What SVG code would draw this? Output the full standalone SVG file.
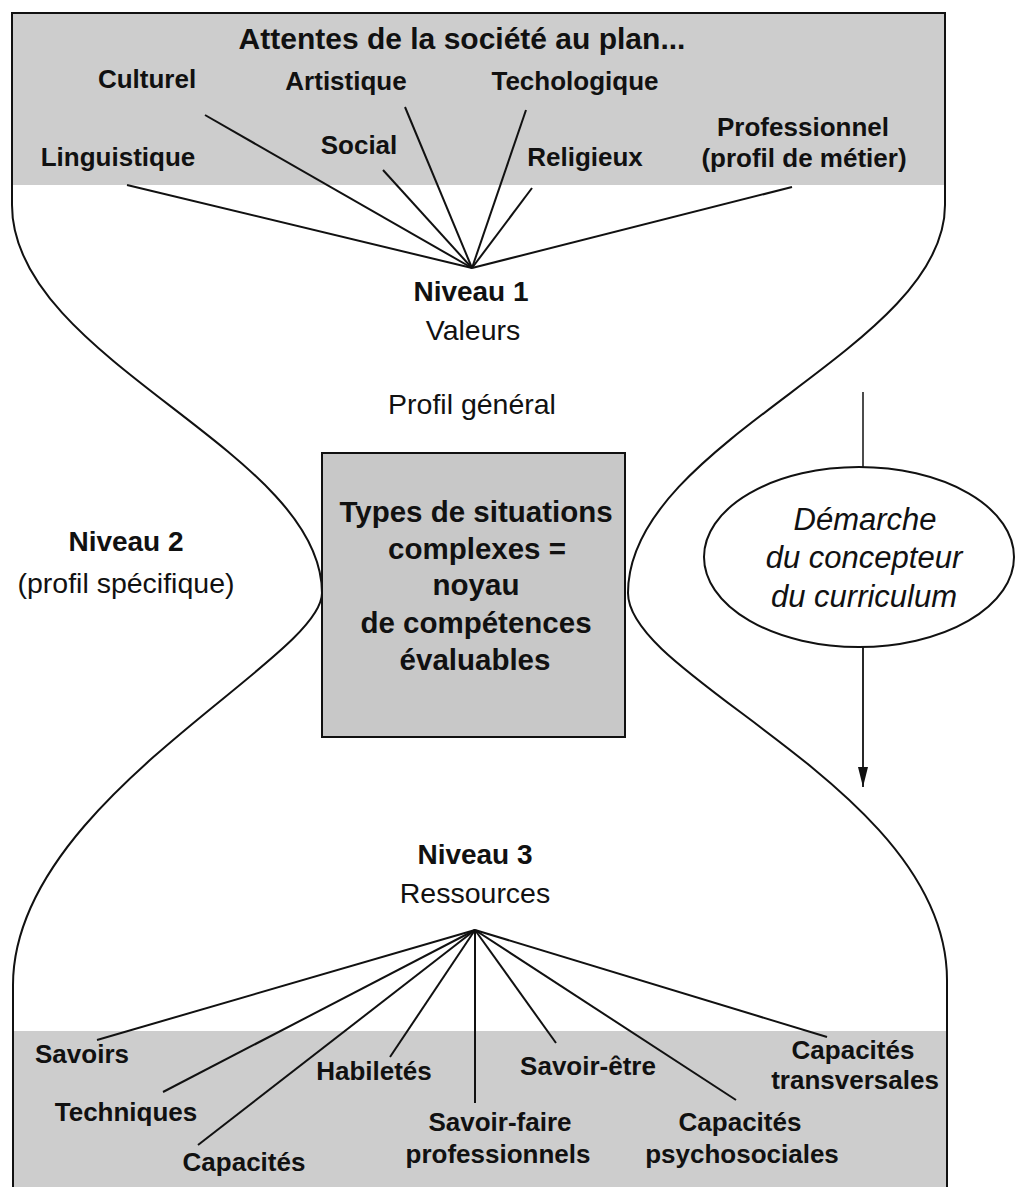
<svg xmlns="http://www.w3.org/2000/svg" width="1019" height="1187" viewBox="0 0 1019 1187">
<defs>
<style>
.b{font-family:"Liberation Sans",Arial,sans-serif;font-weight:bold;font-size:26px;fill:#111;text-anchor:middle}
.t{font-family:"Liberation Sans",Arial,sans-serif;font-weight:bold;font-size:30px;fill:#111;text-anchor:middle}
.n{font-family:"Liberation Sans",Arial,sans-serif;font-weight:bold;font-size:28px;fill:#111;text-anchor:middle}
.r{font-family:"Liberation Sans",Arial,sans-serif;font-size:28.5px;fill:#111;text-anchor:middle}
.i{font-family:"Liberation Sans",Arial,sans-serif;font-style:italic;font-size:31px;fill:#111;text-anchor:middle}
.sp{stroke:#111;stroke-width:2;fill:none}
.sh{fill:#cdcdcd}
</style>
<marker id="ah" viewBox="0 0 20 10" refX="20" refY="5" markerWidth="20" markerHeight="10" markerUnits="userSpaceOnUse" orient="auto">
<path d="M0,0 L20,5 L0,10 Z" fill="#111"/>
</marker>
</defs>
<rect width="1019" height="1187" fill="#fff"/>

<g id="outline">
<rect class="sh" x="11" y="13" width="934" height="172"/>
<rect class="sh" x="13" y="1031" width="934" height="156"/>
<path class="sp" d="M12,205 L12,13 L945,13 L945,205"/>
<path class="sp" d="M12,205 C12,360 322,450 322,593 C322,660 13,800 13,985 L13,1187"/>
<path class="sp" d="M945,205 C945,350 628,440 628,593 C628,680 947,790 947,980 L947,1187"/>
</g>

<g id="connectors">
<line class="sp" x1="127" y1="185" x2="472" y2="268"/>
<line class="sp" x1="205" y1="115" x2="472" y2="268"/>
<line class="sp" x1="383" y1="170" x2="472" y2="268"/>
<line class="sp" x1="405" y1="107" x2="472" y2="268"/>
<line class="sp" x1="526" y1="110" x2="472" y2="268"/>
<line class="sp" x1="532" y1="188" x2="472" y2="268"/>
<line class="sp" x1="792" y1="187" x2="472" y2="268"/>

<line class="sp" x1="475" y1="930" x2="97" y2="1040"/>
<line class="sp" x1="475" y1="930" x2="163" y2="1092"/>
<line class="sp" x1="475" y1="930" x2="198" y2="1145"/>
<line class="sp" x1="475" y1="930" x2="390" y2="1057"/>
<line class="sp" x1="475" y1="930" x2="475" y2="1103"/>
<line class="sp" x1="475" y1="930" x2="556" y2="1043"/>
<line class="sp" x1="475" y1="930" x2="736" y2="1100"/>
<line class="sp" x1="475" y1="930" x2="827" y2="1037"/>

<line x1="863" y1="392" x2="863" y2="467" stroke="#111" stroke-width="1.5"/>
<line x1="863" y1="647" x2="863" y2="787" stroke="#111" stroke-width="1.8" marker-end="url(#ah)"/>
</g>

<g id="attentes">
<text class="t" x="462" y="49">Attentes de la société au plan...</text>
<text class="b" x="147" y="88">Culturel</text>
<text class="b" x="346" y="90">Artistique</text>
<text class="b" x="575" y="90">Techologique</text>
<text class="b" x="359" y="154">Social</text>
<text class="b" x="118" y="166">Linguistique</text>
<text class="b" x="585" y="166">Religieux</text>
<text class="b" x="803" y="136">Professionnel</text>
<text class="b" x="804" y="167">(profil de métier)</text>
</g>

<g id="niveau1">
<text class="n" x="471" y="301">Niveau 1</text>
<text class="r" x="473" y="340">Valeurs</text>
</g>

<g id="profil-general">
<text class="r" x="472" y="414">Profil général</text>
</g>

<g id="niveau2">
<text class="n" x="126" y="551">Niveau 2</text>
<text class="r" x="126" y="593">(profil spécifique)</text>
</g>

<g id="noyau">
<rect x="322" y="453" width="303" height="284" fill="#c8c8c8" stroke="#111" stroke-width="2"/>
<text class="b" style="font-size:29.5px" x="476" y="522">Types de situations</text>
<text class="b" style="font-size:29.5px" x="477" y="559">complexes =</text>
<text class="b" style="font-size:29.5px" x="476" y="595">noyau</text>
<text class="b" style="font-size:29.5px" x="476" y="633">de compétences</text>
<text class="b" style="font-size:29.5px" x="475" y="670">évaluables</text>
</g>

<g id="demarche">
<ellipse cx="859" cy="557" rx="155" ry="90" fill="#fff" stroke="#111" stroke-width="2"/>
<text class="i" x="865" y="530">Démarche</text>
<text class="i" x="864" y="568">du concepteur</text>
<text class="i" x="864" y="607">du curriculum</text>
</g>

<g id="niveau3">
<text class="n" x="475" y="864">Niveau 3</text>
<text class="r" x="475" y="903">Ressources</text>
</g>

<g id="ressources">
<text class="b" x="82" y="1063">Savoirs</text>
<text class="b" x="126" y="1121">Techniques</text>
<text class="b" x="244" y="1171">Capacités</text>
<text class="b" x="374" y="1080">Habiletés</text>
<text class="b" x="500" y="1131">Savoir-faire</text>
<text class="b" x="498" y="1163">professionnels</text>
<text class="b" x="588" y="1075">Savoir-être</text>
<text class="b" x="740" y="1131">Capacités</text>
<text class="b" x="742" y="1163">psychosociales</text>
<text class="b" x="853" y="1059">Capacités</text>
<text class="b" x="855" y="1089">transversales</text>
</g>
</svg>
